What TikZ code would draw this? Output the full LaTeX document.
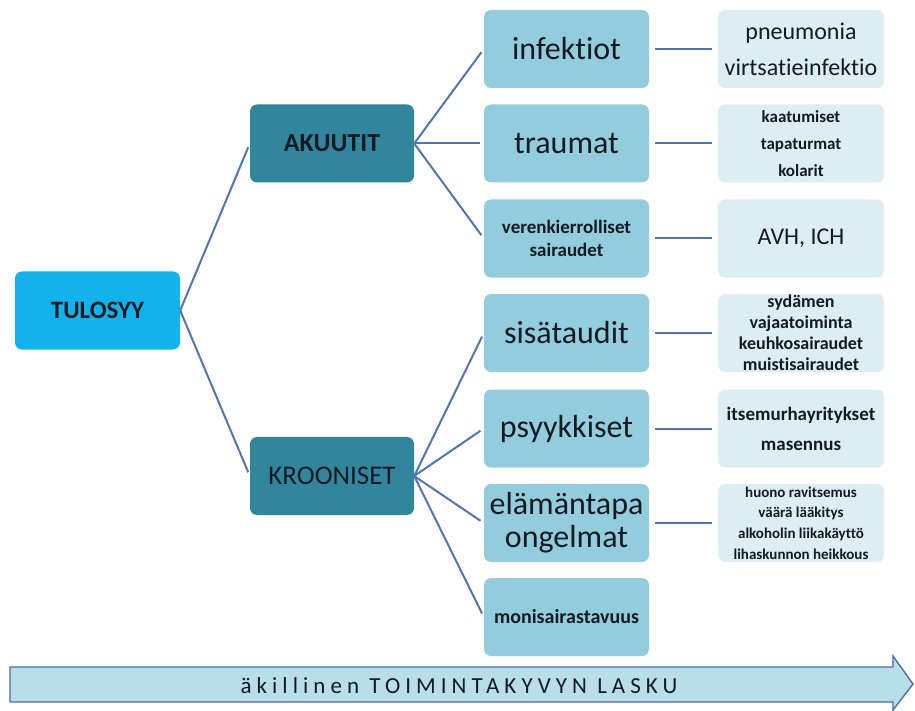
\documentclass[tikz,border=0pt]{standalone}
\usepackage{fontspec}
\setmainfont{Carlito}[Ligatures=NoCommon]
\newfontfamily\spacedfont{Carlito}[LetterSpace=22,Ligatures=NoCommon]
\definecolor{rootfill}{HTML}{12B2EC}
\definecolor{groupfill}{HTML}{31869D}
\definecolor{catfill}{HTML}{93CDDD}
\definecolor{detailfill}{HTML}{DCEEF4}
\definecolor{linkcol}{HTML}{5475AC}
\definecolor{txt}{HTML}{141A22}
\definecolor{arrowfill}{HTML}{B8DEE9}
\definecolor{arrowedge}{HTML}{4D6D9E}
\newcommand{\fs}[2]{\fontsize{#1}{#2}\selectfont}
\tikzset{
  box/.style={rounded corners=7pt, minimum width=165pt, minimum height=78pt,
    inner sep=0pt, align=center, text=txt, draw=none},
  rootbox/.style={box, fill=rootfill},
  groupbox/.style={box, fill=groupfill, minimum width=164pt},
  catbox/.style={box, fill=catfill},
  detailbox/.style={box, fill=detailfill, minimum width=166pt},
  link/.style={draw=linkcol, line width=2pt},
}
\begin{document}
\begin{tikzpicture}[x=1pt, y=-1pt]
\useasboundingbox (0,0) rectangle (915,711);

% root and the two main groups
\node[rootbox, font=\bfseries\fs{25}{30}] (root) at (97.5,310.5) {TULOSYY};
\node[groupbox, font=\bfseries\fs{26}{30}] (acute) at (332,143.5) {AKUUTIT};
\node[groupbox, font=\fs{27}{30}] (chronic) at (332,476) {KROONISET};

% categories
\node[catbox, font=\fs{32}{34}] (inf) at (566.5,49) {infektiot};
\node[catbox, font=\fs{32}{34}] (trau) at (566.5,143.5) {traumat};
\node[catbox, font=\bfseries\fs{19}{23}] (ver) at (566.5,238.5) {verenkierrolliset\\sairaudet};
\node[catbox, font=\fs{32}{34}] (sis) at (566.5,333) {sisätaudit};
\node[catbox, font=\fs{32}{34}] (psy) at (566.5,428.5) {psyykkiset};
\node[catbox, font=\fs{32}{33}] (ela) at (566.5,523) {elämäntapa\\ongelmat};
\node[catbox, font=\bfseries\fs{20}{24}] (moni) at (566.5,617) {monisairastavuus};

% details
\node[detailbox, font=\fs{24}{36}] (d1) at (801,49) {pneumonia\\virtsatieinfektio};
\node[detailbox, font=\bfseries\fs{17}{27}] (d2) at (801,143.5) {kaatumiset\\tapaturmat\\kolarit};
\node[detailbox, font=\fs{24}{28}] (d3) at (801,238.5) {AVH, ICH};
\node[detailbox, font=\bfseries\fs{18}{21}] (d4) at (801,333) {sydämen\\vajaatoiminta\\keuhkosairaudet\\muistisairaudet};
\node[detailbox, font=\bfseries\fs{19}{30}] (d5) at (801,428.5) {itsemurhayritykset\\masennus};
\node[detailbox, font=\bfseries\fs{15}{20.7}] (d6) at (801,523) {huono ravitsemus\\väärä lääkitys\\alkoholin liikakäyttö\\lihaskunnon heikkous};

% connectors
\draw[link, shorten >=4pt] (root.east) -- (acute.west);
\draw[link, shorten >=4pt] (root.east) -- (chronic.west);
\foreach \c in {inf,trau,ver}
  \draw[link, shorten >=4pt] (acute.east) -- (\c.west);
\foreach \c in {sis,psy,ela,moni}
  \draw[link, shorten >=4pt] (chronic.east) -- (\c.west);
\foreach \a/\b in {inf/d1,trau/d2,ver/d3,sis/d4,psy/d5,ela/d6}
  \draw[link, shorten <=6pt, shorten >=6pt] (\a.east) -- (\b.west);

% timeline arrow
\draw[fill=arrowfill, draw=arrowedge, line width=1.4pt, line join=miter]
  (10,667) -- (893,667) -- (893,656) -- (913,684) -- (893,710) -- (893,702) -- (10,702) -- cycle;
\node[font=\spacedfont\fs{23}{26}, text=txt] (lbl) at (459,686) {äkillinen TOIMINTAKYVYN LASKU};
\end{tikzpicture}
\end{document}
